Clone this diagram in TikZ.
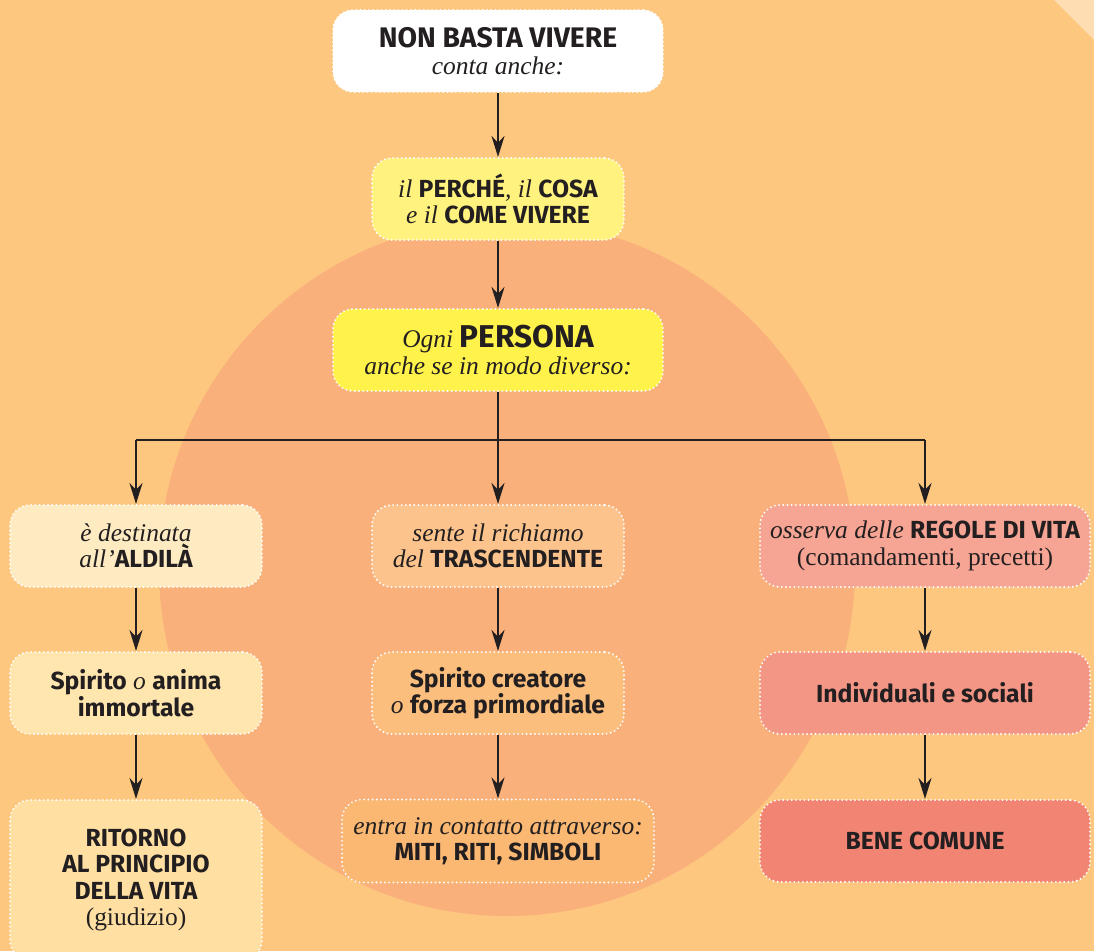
\documentclass[tikz,border=0pt]{standalone}
\usepackage{fontspec}
\setmainfont{Liberation Serif}
\setsansfont{Fira Sans}[Scale=0.97]
\usetikzlibrary{arrows.meta}

\definecolor{sfondo}{HTML}{FDC77F}
\definecolor{cerchio}{HTML}{F9B07B}
\definecolor{testo}{HTML}{231F20}
\definecolor{giallochiaro}{HTML}{FFF27F}
\definecolor{giallo}{HTML}{FFF24A}
\definecolor{crema}{HTML}{FFEBC2}
\definecolor{cremascuro}{HTML}{FFE5AE}
\definecolor{sabbia}{HTML}{FFE0A2}
\definecolor{pesca}{HTML}{FCC48C}
\definecolor{pescascuro}{HTML}{FBBE7D}
\definecolor{arancio}{HTML}{FBB872}
\definecolor{rosa}{HTML}{F6A493}
\definecolor{salmone}{HTML}{F49685}
\definecolor{corallo}{HTML}{F28473}

\newcommand\maiusc[1]{{\sffamily\bfseries #1}}

\begin{document}
\begin{tikzpicture}[x=0.02cm,y=-0.02cm,
  box/.style = {draw=white,line width=1.2pt,dash pattern=on 0pt off 2.4pt,
        line cap=round,rounded corners=4mm,align=center,inner sep=0pt,
        text=testo,font=\fontsize{14.5}{15}\selectfont},
  stretta/.style = {box,minimum width=5.04cm,minimum height=1.64cm},
  larga/.style = {box,minimum width=6.6cm,minimum height=1.64cm},
  freccia/.style = {draw=testo,line width=1.4pt,-{Stealth[length=4.2mm,width=2.6mm]}}]
 \useasboundingbox (0,0) rectangle (1094,951);
 \clip (0,0) rectangle (1094,951);
 \fill[sfondo] (0,0) rectangle (1094,951);
 \fill[sfondo!60!white] (1054,0) -- (1094,0) -- (1094,40) -- cycle;
 \fill[cerchio] (507,568) circle (348);

 \node[larga,fill=white] (vivere) at (498,51)
   {\maiusc{\fontsize{16.6}{15}\selectfont NON BASTA VIVERE}\\ \textit{conta anche:}};
 \node[stretta,fill=giallochiaro] (perche) at (498,199)
   {\textit{il} \maiusc{PERCHÉ}\textit{, il} \maiusc{COSA}\\
    \textit{e il} \maiusc{COME VIVERE}};
 \node[larga,fill=giallo] (persona) at (498,350)
   {\textit{Ogni} \maiusc{\fontsize{18.5}{15}\selectfont PERSONA}\\
    \textit{anche se in modo diverso:}};

 % colonna sinistra
 \node[stretta,fill=crema] (aldila) at (136,546)
   {\textit{è destinata}\\ \textit{all’}\maiusc{ALDILÀ}};
 \node[stretta,fill=cremascuro] (anima) at (136,693)
   {\maiusc{Spirito} \textit{o} \maiusc{anima}\\ \maiusc{immortale}};
 \node[stretta,fill=sabbia,minimum height=3.2cm] (ritorno) at (136,880)
   {\maiusc{RITORNO}\\ \maiusc{AL PRINCIPIO}\\ \maiusc{DELLA VITA}\\ (giudizio)};

 % colonna centrale
 \node[stretta,fill=pesca] (richiamo) at (498,546)
   {\textit{sente il richiamo}\\ \textit{del} \maiusc{TRASCENDENTE}};
 \node[stretta,fill=pescascuro] (creatore) at (498,693)
   {\maiusc{Spirito creatore}\\ \textit{o} \maiusc{forza primordiale}};
 \node[box,fill=arancio,minimum width=6.24cm,minimum height=1.66cm] (miti) at (498,841)
   {\textit{entra in contatto attraverso:}\\ \maiusc{MITI, RITI, SIMBOLI}};

 % colonna destra
 \node[larga,fill=rosa] (regole) at (925,546)
   {\textit{osserva delle} \maiusc{REGOLE DI VITA}\\ (comandamenti, precetti)};
 \node[larga,fill=salmone] (sociali) at (925,693)
   {\maiusc{Individuali e sociali}};
 \node[larga,fill=corallo] (bene) at (925,841)
   {\maiusc{BENE COMUNE}};

 \coordinate (bivio) at (498,440);
 \begin{scope}[freccia]
  \draw (vivere) -- (perche);
  \draw (perche) -- (persona);
  \draw[-] (persona) -- (bivio);
  \draw[-] (bivio -| aldila) -- (bivio -| regole);
  \draw (bivio -| aldila) -- (aldila);
  \draw (bivio) -- (richiamo);
  \draw (bivio -| regole) -- (regole);
  \draw (aldila) -- (anima);
  \draw (anima) -- (ritorno);
  \draw (richiamo) -- (creatore);
  \draw (creatore) -- (miti);
  \draw (regole) -- (sociali);
  \draw (sociali) -- (bene);
 \end{scope}
\end{tikzpicture}
\end{document}
